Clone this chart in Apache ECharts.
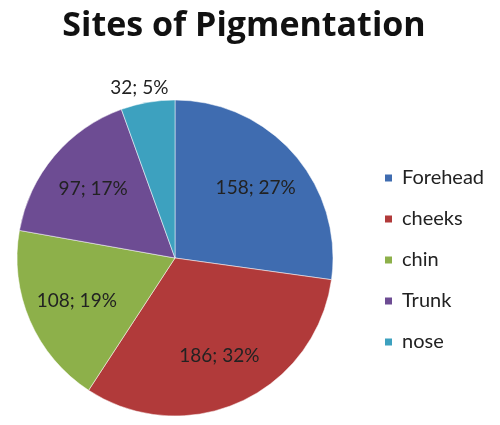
<!DOCTYPE html>
<html>
<head>
<meta charset="utf-8">
<script src="https://cdn.jsdelivr.net/npm/echarts@6/dist/echarts.min.js"></script>
<style>
    html, body { margin: 0; padding: 0; background: #fff; }
    #chart { width: 500px; height: 425px; }
</style>
</head>
<body>
<div id="chart"></div>
<script>
// data
const sites = ['Forehead', 'cheeks', 'chin', 'Trunk', 'nose'];
const counts = [158, 186, 108, 97, 32];
const percents = [27, 32, 19, 17, 5];
const colors = ['#3F6CB0', '#B13A3A', '#8DB04A', '#6D4C93', '#3DA1BF'];

let chart = echarts.init(document.getElementById('chart'));

const labelText = p => counts[p.dataIndex] + '; ' + percents[p.dataIndex] + '%';

// visible slices (nose label sits outside, above the slice)
let pieData = sites.map((name, i) => {
    let item = { name: name, value: counts[i], itemStyle: { color: colors[i] } };
    if (name === 'nose') {
        item.label = { show: true, position: 'outside', offset: [26, -13] };
        item.labelLine = { show: false, length: 2, length2: 0 };
    }
    return item;
});

// transparent ring only used to push the inside labels further out, like Excel does
let ghostData = sites.map((name, i) => ({
    name: name,
    value: counts[i],
    label: { show: name !== 'nose' }
}));

let option = {
    animation: false,
    textStyle: { fontFamily: 'Lato, "Open Sans", sans-serif' },
    title: {
        text: 'Sites of Pigmentation',
        left: 239,
        textAlign: 'center',
        top: 4,
        textStyle: { fontSize: 34, fontWeight: 'bold', color: '#111', fontFamily: '"Open Sans", Lato, sans-serif' }
    },
    legend: {
        orient: 'vertical',
        left: 383,
        top: 168,
        padding: 0,
        itemWidth: 9,
        itemHeight: 9,
        itemGap: 21,
        icon: 'rect',
        textStyle: { fontSize: 20, color: '#222', padding: [0, 0, 0, 4] },
        data: sites
    },
    series: [{
        type: 'pie',
        center: [175, 258],
        radius: 158,
        startAngle: 90,
        clockwise: true,
        labelLine: { show: false },
        label: {
            show: false,
            fontSize: 19,
            color: '#222',
            formatter: labelText
        },
        itemStyle: { borderColor: '#fff', borderWidth: 0.5 },
        data: pieData
    }, {
        type: 'pie',
        center: [175, 258],
        radius: [50, 158],
        startAngle: 90,
        clockwise: true,
        silent: true,
        z: 3,
        itemStyle: { color: 'rgba(0,0,0,0)' },
        labelLine: { show: false },
        label: {
            position: 'inside',
            fontSize: 19,
            color: '#222',
            formatter: labelText
        },
        data: ghostData
    }]
};
chart.setOption(option);
</script>
</body>
</html>
